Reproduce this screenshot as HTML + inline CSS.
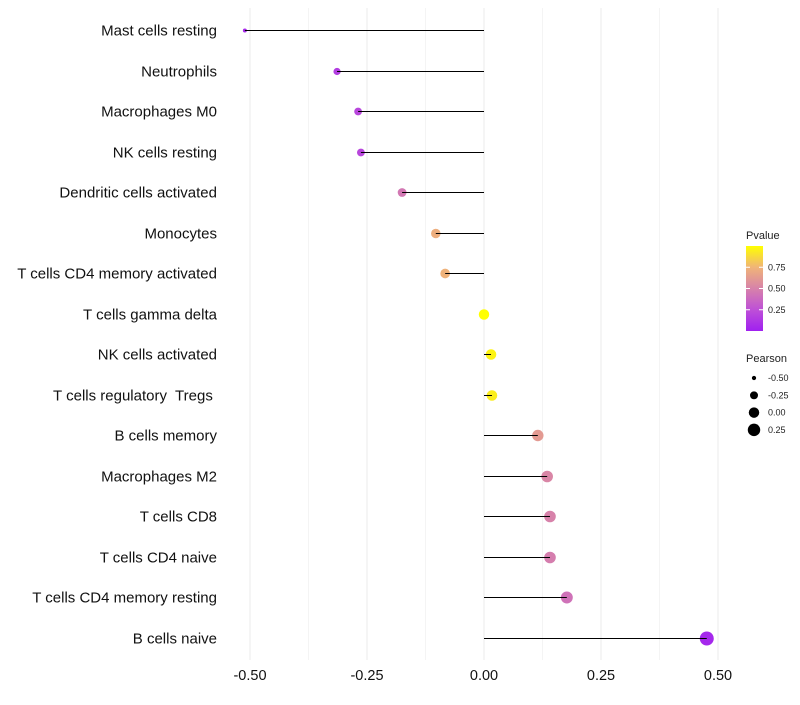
<!DOCTYPE html>
<html><head><meta charset="utf-8"><style>
body{margin:0;background:#fff;font-family:"Liberation Sans",sans-serif}
text{white-space:pre}
</style></head><body>
<svg id="chart" width="800" height="700" xmlns="http://www.w3.org/2000/svg"></svg>
<script>
const categories=["Mast cells resting","Neutrophils","Macrophages M0","NK cells resting","Dendritic cells activated","Monocytes","T cells CD4 memory activated","T cells gamma delta","NK cells activated","T cells regulatory  Tregs ","B cells memory","Macrophages M2","T cells CD8","T cells CD4 naive","T cells CD4 memory resting","B cells naive"];
const pearson=[-0.511,-0.314,-0.269,-0.263,-0.175,-0.103,-0.083,0.0,0.015,0.017,0.115,0.135,0.141,0.141,0.177,0.476];
const pvalues=[0.06,0.15,0.2,0.2,0.45,0.72,0.74,1.0,0.96,0.94,0.62,0.52,0.5,0.48,0.42,0.04];
const xTicks=[-0.5,-0.25,0,0.25,0.5];
const xTickLabels=["-0.50","-0.25","0.00","0.25","0.50"];
const pLegendTicks=[0.25,0.5,0.75];
const sizeLegend=[-0.5,-0.25,0,0.25];

const svg=document.getElementById('chart');
const NS='http://www.w3.org/2000/svg';
function mk(t,a,p){const e=document.createElementNS(NS,t);for(const k in a)e.setAttribute(k,a[k]);(p||svg).appendChild(e);return e;}
const x=v=>484+v*468;
const y=i=>Math.round(30+i*40.53)+0.5;
const r=v=>Math.sqrt(Math.max(0.5,27.3+45.6*v));
const stops=[[0,[160,32,240]],[0.25,[190,80,215]],[0.5,[215,130,170]],[0.75,[240,180,120]],[1,[255,255,0]]];
function col(p){for(let i=1;i<stops.length;i++){if(p<=stops[i][0]){const a=stops[i-1],b=stops[i];const t=(p-a[0])/(b[0]-a[0]);const c=a[1].map((v,k)=>Math.round(v+(b[1][k]-v)*t));return `rgb(${c})`;}}return 'rgb(255,255,0)';}

for(let i=0;i<xTicks.length;i++){
 const g=mk('line',{x1:x(xTicks[i]),x2:x(xTicks[i]),y1:8,y2:660,stroke:'#ebebeb','stroke-width':1});
 
 
 if(i<xTicks.length-1){const m=(xTicks[i]+xTicks[i+1])/2;
  const gm=mk('line',{x1:x(m),x2:x(m),y1:8,y2:660,stroke:'#f4f4f4','stroke-width':1});
  
  }
 const t=mk('text',{x:x(xTicks[i]),y:680,'text-anchor':'middle','font-size':14.5,fill:'#111'});
 t.textContent=xTickLabels[i];
 
 
}
categories.forEach((c,i)=>{
 const t=mk('text',{x:217,y:y(i)+5,'text-anchor':'end','font-size':15,fill:'#111'});
 t.textContent=c;
 
 
 const d=mk('circle',{cx:x(pearson[i]),cy:y(i),r:r(pearson[i]),fill:col(pvalues[i])});
 
 
 const l=mk('line',{x1:x(0),x2:x(pearson[i]),y1:y(i),y2:y(i),stroke:'#000','stroke-width':1});
 
 
});
const lt=mk('text',{x:746,y:239,'font-size':11,fill:'#222'});lt.textContent='Pvalue';


const defs=mk('defs',{});const lg=mk('linearGradient',{id:'pg',x1:0,y1:1,x2:0,y2:0},defs);
stops.forEach(s=>mk('stop',{offset:s[0],'stop-color':`rgb(${s[1]})`},lg));
const bar=mk('rect',{x:746,y:246,width:17,height:85,fill:'url(#pg)'});


const py=p=>331-p*85;
pLegendTicks.forEach(p=>{
 mk('line',{x1:746,x2:750,y1:py(p),y2:py(p),stroke:'#fff'});mk('line',{x1:759,x2:763,y1:py(p),y2:py(p),stroke:'#fff'});
 const t=mk('text',{x:768,y:py(p)+3,'font-size':9,fill:'#222'});t.textContent=p.toFixed(2);
 
 
});
const st=mk('text',{x:746,y:362,'font-size':11,fill:'#222'});st.textContent='Pearson';


sizeLegend.forEach((v,i)=>{
 const cy=378+i*17.3;
 const c=mk('circle',{cx:754,cy:cy,r:r(v),fill:'#000'});
 
 
 const t=mk('text',{x:768,y:cy+3,'font-size':9,fill:'#222'});t.textContent=v.toFixed(2);
 
 
});
</script>
</body></html>
